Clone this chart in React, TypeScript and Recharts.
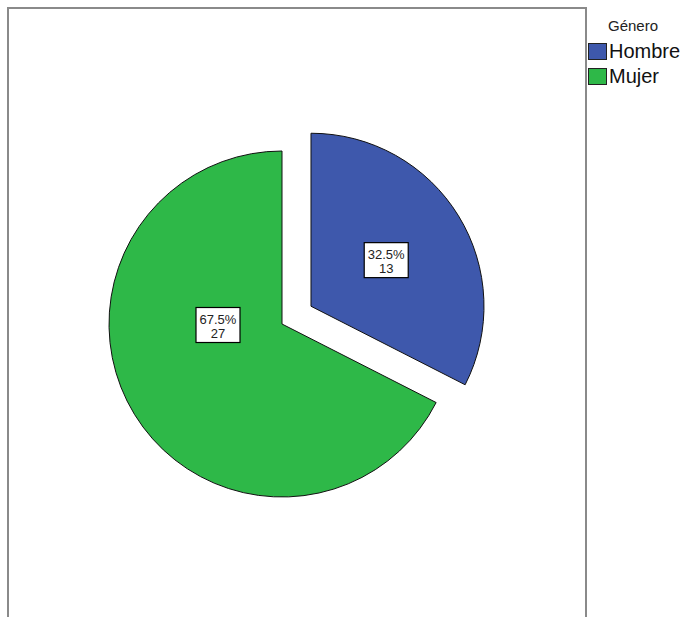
import React from 'react';
import { PieChart, Pie, Cell, Legend } from 'recharts';

const categories = ['Hombre', 'Mujer'];
const counts = [13, 27];
const percents = ['32.5%', '67.5%'];
const colors = ['#3E58AC', '#2EB848'];
const legendTitle = 'Género';

const data = categories.map((name, i) => ({ name, value: counts[i], pct: percents[i] }));
const total = counts.reduce((a, b) => a + b, 0);

const W = 681;
const H = 617;
const CX = 282;
const CY = 324;
const R = 173;
const EXPLODE = 34;
const RAD = Math.PI / 180;

// explode vector of Hombre slice (first slice, clockwise from 12 o'clock)
const hombreMid = 90 - (360 * counts[0]) / total / 2;
const ex = EXPLODE * Math.cos(hombreMid * RAD);
const ey = -EXPLODE * Math.sin(hombreMid * RAD);

const FONT = '"Liberation Sans", Arial, sans-serif';

const makeLabel = (visibleIndex: number) => (props: any) => {
  const { cx, cy, midAngle, outerRadius, index } = props;
  if (index !== visibleIndex) return null;
  const d = data[index];
  let ang = midAngle;
  let rr = outerRadius * 0.51;
  if (index === 1) {
    ang = 180.9;
    rr = outerRadius * 0.37;
  }
  const x = cx + rr * Math.cos(ang * RAD);
  const y = cy - rr * Math.sin(ang * RAD);
  const bw = 44;
  const bh = 35;
  return (
    <g>
      <rect x={x - bw / 2} y={y - bh / 2} width={bw} height={bh} fill="#fff" stroke="#000" strokeWidth={1.2} />
      <text x={x} y={y - 1} textAnchor="middle" fontFamily={FONT} fontSize={13} fill="#222">
        {d.pct}
      </text>
      <text x={x} y={y + 13} textAnchor="middle" fontFamily={FONT} fontSize={13} fill="#222">
        {d.value}
      </text>
    </g>
  );
};

const LegendContent = () => (
  <div style={{ position: 'relative', width: 94, height: 95, fontFamily: FONT }}>
    <div style={{ position: 'absolute', left: 20, top: 5, fontSize: 15, lineHeight: '17px', color: '#222' }}>{legendTitle}</div>
    {categories.map((c, i) => (
      <div key={c} style={{ position: 'absolute', left: 0, top: 31 + i * 25, height: 17, display: 'flex', alignItems: 'center' }}>
        <div style={{ width: 19, height: 17, background: colors[i], border: '1px solid #222', boxSizing: 'border-box', flex: 'none' }} />
        <span style={{ marginLeft: 2, fontSize: 20, color: '#111', lineHeight: '17px', whiteSpace: 'nowrap' }}>{c}</span>
      </div>
    ))}
  </div>
);

export default function App() {
  return (
    <div style={{ position: 'absolute', left: 0, top: 0, width: W, height: H, background: '#fff', overflow: 'hidden' }}>
      <div
        style={{
          position: 'absolute',
          left: 7,
          top: 7,
          width: 576,
          height: H + 10,
          borderLeft: '2px solid #8a8a8a',
          borderTop: '2px solid #8a8a8a',
          borderRight: '2px solid #8a8a8a',
        }}
      />
      <div style={{ position: 'absolute', left: 0, top: 0 }}>
        <PieChart width={W} height={H} margin={{ top: 0, right: 0, bottom: 0, left: 0 }}>
          <Pie
            data={data}
            dataKey="value"
            nameKey="name"
            cx={CX}
            cy={CY}
            outerRadius={R}
            startAngle={90}
            endAngle={-270}
            stroke="none"
            isAnimationActive={false}
            label={makeLabel(1)}
            labelLine={false}
            legendType="none"
          >
            {data.map((d, i) => (
              <Cell key={d.name} fill={i === 1 ? colors[i] : 'none'} stroke={i === 1 ? '#111' : 'none'} strokeWidth={1} />
            ))}
          </Pie>
          <Pie
            data={data}
            dataKey="value"
            nameKey="name"
            cx={CX + ex}
            cy={CY + ey}
            outerRadius={R}
            startAngle={90}
            endAngle={-270}
            stroke="none"
            isAnimationActive={false}
            label={makeLabel(0)}
            labelLine={false}
            legendType="none"
          >
            {data.map((d, i) => (
              <Cell key={d.name} fill={i === 0 ? colors[i] : 'none'} stroke={i === 0 ? '#111' : 'none'} strokeWidth={1} />
            ))}
          </Pie>
          <Legend
            content={<LegendContent />}
            layout="vertical"
            verticalAlign="top"
            align="right"
            wrapperStyle={{ position: 'absolute', left: 588, top: 12, width: 94 }}
          />
        </PieChart>
      </div>
    </div>
  );
}
